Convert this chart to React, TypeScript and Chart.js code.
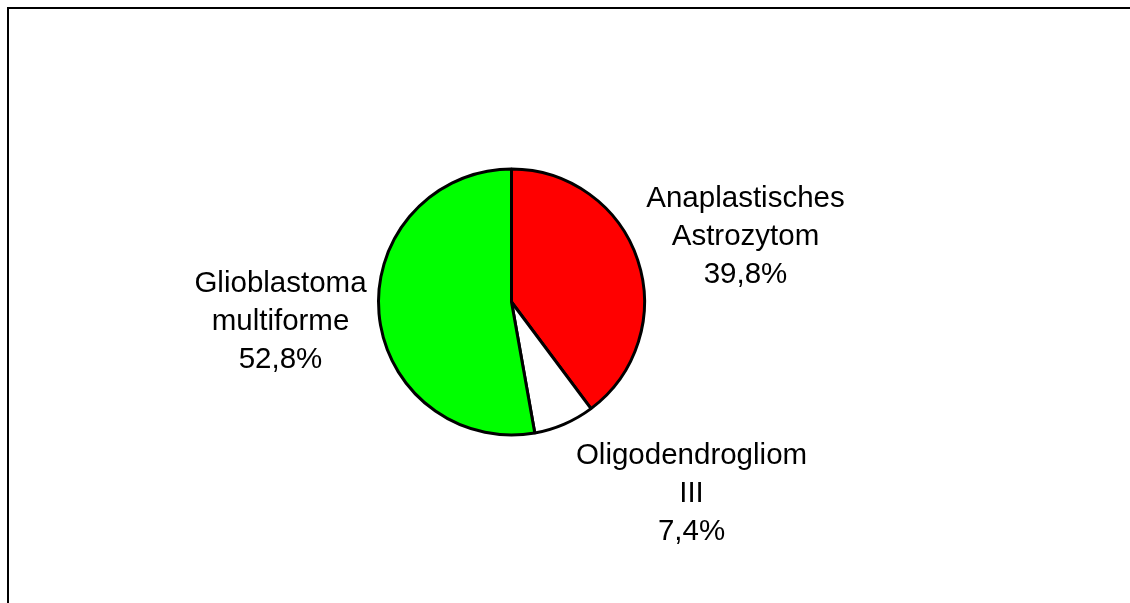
import React, { useEffect, useRef } from "react";
import { Chart, registerables } from "chart.js";

Chart.register(...registerables);

const categories = ["Anaplastisches\nAstrozytom", "Oligodendrogliom\nIII", "Glioblastoma\nmultiforme"];
const values = [39.8, 7.4, 52.8];
const colors = ["#FF0000", "#FFFFFF", "#00FF00"];
const percentLabels = ["39,8%", "7,4%", "52,8%"];

// label anchor offsets (middle line baseline) relative to pie centre
const labelOffsets = [
  { dx: 234, dy: -57 },
  { dx: 180, dy: 200 },
  { dx: -231, dy: 28 },
];

const framePlugin = {
  id: "frame",
  beforeDraw(chart: any) {
    const ctx = chart.ctx;
    ctx.save();
    ctx.fillStyle = "#FFFFFF";
    ctx.fillRect(0, 0, chart.width, chart.height);
    ctx.strokeStyle = "#000000";
    ctx.lineWidth = 2;
    ctx.strokeRect(8, 8, chart.width + 50, chart.height + 50);
    ctx.restore();
  },
};

const labelPlugin = {
  id: "sliceLabels",
  afterDraw(chart: any) {
    const ctx = chart.ctx;
    const meta = chart.getDatasetMeta(0);
    ctx.save();
    ctx.font = "29.5px 'Liberation Sans', Arial, sans-serif";
    ctx.fillStyle = "#000000";
    ctx.textAlign = "center";
    ctx.textBaseline = "alphabetic";
    meta.data.forEach((arc: any, i: number) => {
      const lines = [...categories[i].split("\n"), percentLabels[i]];
      const x = arc.x + labelOffsets[i].dx;
      const y = arc.y + labelOffsets[i].dy;
      const lh = 38;
      lines.forEach((ln, j) => {
        ctx.fillText(ln, x, y + (j - 1) * lh);
      });
    });
    ctx.restore();
  },
};

export default function App() {
  const ref = useRef<HTMLCanvasElement | null>(null);
  useEffect(() => {
    if (!ref.current) return;
    const chart = new Chart(ref.current, {
      type: "pie",
      data: {
        labels: categories.map((c) => c.replace("\n", " ")),
        datasets: [
          {
            data: values,
            backgroundColor: colors,
            borderColor: "#000000",
            borderWidth: 3,
            hoverOffset: 0,
          },
        ],
      },
      options: {
        responsive: false,
        animation: false,
        radius: 133,
        layout: { padding: { left: 0, right: 107, top: 1, bottom: 0 } },
        plugins: {
          legend: { display: false },
          tooltip: { enabled: false },
        },
      },
      plugins: [framePlugin, labelPlugin],
    });
    return () => chart.destroy();
  }, []);
  return (
    <div style={{ position: "fixed", left: 0, top: 0, width: 1130, height: 603 }}>
      <canvas ref={ref} width={1130} height={603} style={{ display: "block" }} />
    </div>
  );
}
